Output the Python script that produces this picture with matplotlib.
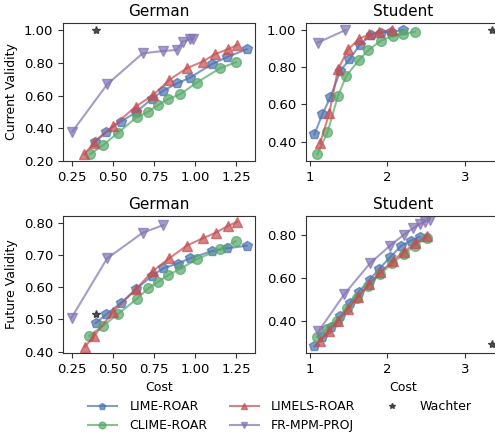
import matplotlib
matplotlib.use("Agg")
import matplotlib.pyplot as plt
import numpy as np

# German - current validity
g_cur_lime_x = [0.39, 0.457, 0.547, 0.64, 0.736, 0.807, 0.892, 0.97, 1.104, 1.193, 1.315]
g_cur_lime_y = [0.318, 0.379, 0.44, 0.497, 0.579, 0.63, 0.674, 0.709, 0.792, 0.833, 0.882]
g_cur_clime_x = [0.36, 0.441, 0.532, 0.644, 0.715, 0.776, 0.833, 0.909, 1.01, 1.152, 1.25]
g_cur_clime_y = [0.241, 0.298, 0.373, 0.467, 0.501, 0.542, 0.577, 0.607, 0.678, 0.766, 0.803]
g_cur_limels_x = [0.325, 0.386, 0.502, 0.638, 0.746, 0.843, 0.949, 1.047, 1.122, 1.199, 1.258]
g_cur_limels_y = [0.241, 0.312, 0.414, 0.532, 0.603, 0.695, 0.766, 0.807, 0.852, 0.882, 0.908]
g_cur_fr_x = [0.252, 0.465, 0.681, 0.807, 0.888, 0.925, 0.97, 0.99]
g_cur_fr_y = [0.379, 0.668, 0.857, 0.872, 0.878, 0.929, 0.943, 0.947]
g_cur_wachter = (0.396, 1.0)

# Student - current validity
s_cur_lime_x = [1.057, 1.161, 1.265, 1.392, 1.51, 1.64, 1.784, 1.915, 2.046, 2.198]
s_cur_lime_y = [0.439, 0.548, 0.641, 0.781, 0.842, 0.919, 0.973, 0.986, 0.989, 1.0]
s_cur_clime_x = [1.096, 1.226, 1.362, 1.47, 1.632, 1.754, 1.915, 2.068, 2.198, 2.35]
s_cur_clime_y = [0.332, 0.45, 0.647, 0.754, 0.839, 0.892, 0.943, 0.968, 0.977, 0.991]
s_cur_limels_x = [1.131, 1.248, 1.362, 1.493, 1.632, 1.762, 1.893, 2.055]
s_cur_limels_y = [0.391, 0.552, 0.79, 0.896, 0.952, 0.977, 0.987, 1.0]
s_cur_fr_x = [1.1, 1.458]
s_cur_fr_y = [0.932, 1.0]
s_cur_wachter = (3.344, 1.0)

# German - future validity
g_fut_lime_x = [0.394, 0.461, 0.549, 0.64, 0.736, 0.807, 0.894, 0.97, 1.102, 1.193, 1.315]
g_fut_lime_y = [0.488, 0.516, 0.551, 0.593, 0.634, 0.658, 0.673, 0.689, 0.711, 0.72, 0.728]
g_fut_clime_x = [0.356, 0.441, 0.529, 0.644, 0.715, 0.776, 0.837, 0.909, 1.01, 1.152, 1.25]
g_fut_clime_y = [0.449, 0.48, 0.516, 0.562, 0.596, 0.616, 0.637, 0.656, 0.686, 0.717, 0.742]
g_fut_limels_x = [0.329, 0.386, 0.502, 0.64, 0.742, 0.843, 0.949, 1.047, 1.126, 1.199, 1.258]
g_fut_limels_y = [0.415, 0.449, 0.524, 0.593, 0.649, 0.689, 0.728, 0.751, 0.768, 0.789, 0.802]
g_fut_fr_x = [0.248, 0.465, 0.681, 0.807]
g_fut_fr_y = [0.505, 0.689, 0.768, 0.792]
g_fut_wachter = (0.4, 0.516)

# Student - future validity
s_fut_lime_x = [1.057, 1.161, 1.275, 1.392, 1.514, 1.632, 1.771, 1.893, 2.033, 2.176, 2.298, 2.416]
s_fut_lime_y = [0.28, 0.322, 0.373, 0.42, 0.482, 0.536, 0.591, 0.642, 0.696, 0.749, 0.773, 0.792]
s_fut_clime_x = [1.088, 1.218, 1.349, 1.479, 1.61, 1.754, 1.906, 2.059, 2.207, 2.35, 2.503]
s_fut_clime_y = [0.324, 0.363, 0.4, 0.459, 0.508, 0.564, 0.617, 0.667, 0.71, 0.749, 0.787]
s_fut_limels_x = [1.131, 1.248, 1.362, 1.488, 1.618, 1.762, 1.906, 2.068, 2.207, 2.36, 2.503]
s_fut_limels_y = [0.304, 0.353, 0.4, 0.454, 0.512, 0.571, 0.625, 0.679, 0.722, 0.761, 0.797]
s_fut_fr_x = [1.109, 1.444, 1.775, 2.033, 2.207, 2.329, 2.416, 2.48, 2.546]
s_fut_fr_y = [0.35, 0.524, 0.668, 0.75, 0.8, 0.831, 0.85, 0.862, 0.87]
s_fut_wachter = (3.344, 0.292)

methods = ["LIME-ROAR", "CLIME-ROAR", "LIMELS-ROAR", "FR-MPM-PROJ"]
colors = ["#4C72B0", "#55A868", "#C44E52", "#8172B2"]
markers = ["p", "o", "^", "v"]

panels = [
    ("German", [(g_cur_lime_x, g_cur_lime_y), (g_cur_clime_x, g_cur_clime_y),
                (g_cur_limels_x, g_cur_limels_y), (g_cur_fr_x, g_cur_fr_y)], g_cur_wachter),
    ("Student", [(s_cur_lime_x, s_cur_lime_y), (s_cur_clime_x, s_cur_clime_y),
                 (s_cur_limels_x, s_cur_limels_y), (s_cur_fr_x, s_cur_fr_y)], s_cur_wachter),
    ("German", [(g_fut_lime_x, g_fut_lime_y), (g_fut_clime_x, g_fut_clime_y),
                (g_fut_limels_x, g_fut_limels_y), (g_fut_fr_x, g_fut_fr_y)], g_fut_wachter),
    ("Student", [(s_fut_lime_x, s_fut_lime_y), (s_fut_clime_x, s_fut_clime_y),
                 (s_fut_limels_x, s_fut_limels_y), (s_fut_fr_x, s_fut_fr_y)], s_fut_wachter),
]

boxes = [
    [0.127, 0.628, 0.388, 0.319],
    [0.618, 0.628, 0.392, 0.319],
    [0.127, 0.185, 0.388, 0.316],
    [0.618, 0.185, 0.392, 0.316],
]
xlims = [(0.195, 1.366), (0.948, 3.45), (0.195, 1.366), (0.948, 3.45)]
ylims = [(0.2, 1.043), (0.296, 1.038), (0.396, 0.82), (0.25, 0.888)]
yticks = [[0.2, 0.4, 0.6, 0.8, 1.0], [0.4, 0.6, 0.8, 1.0],
          [0.4, 0.5, 0.6, 0.7, 0.8], [0.4, 0.6, 0.8]]

fig = plt.figure(figsize=(4.95, 4.33), dpi=100)
handles = []
for k, (title, series, wach) in enumerate(panels):
    ax = fig.add_axes(boxes[k])
    for i, (xs, ys) in enumerate(series):
        h, = ax.plot(xs, ys, color=colors[i], marker=markers[i], markersize=7,
                     linewidth=1.5, alpha=0.7, label=methods[i])
        if k == 0:
            handles.append(h)
    hw, = ax.plot([wach[0]], [wach[1]], linestyle="none", marker="*",
                  color="#333333", markersize=6, alpha=0.85, label="Wachter")
    if k == 0:
        handles.append(hw)
    ax.set_title(title, fontsize=11, pad=5)
    ax.set_xlim(*xlims[k])
    ax.set_ylim(*ylims[k])
    ax.set_yticks(yticks[k])
    ax.yaxis.set_major_formatter(matplotlib.ticker.FormatStrFormatter("%.2f"))
    if k in (0, 2):
        ax.set_xticks([0.25, 0.5, 0.75, 1.0, 1.25])
        ax.xaxis.set_major_formatter(matplotlib.ticker.FormatStrFormatter("%.2f"))
    else:
        ax.set_xticks([1, 2, 3])
    ax.tick_params(labelsize=9.5, length=3.5, color="#333333")
    for s in ax.spines.values():
        s.set_color("#333333")
    if k == 0:
        ax.set_ylabel("Current Validity", fontsize=9)
    if k == 2:
        ax.set_ylabel("Future Validity", fontsize=9)
    if k >= 2:
        ax.set_xlabel("Cost", fontsize=9)

fig.legend(handles=handles, loc="upper center", ncol=3, frameon=False,
           fontsize=9, bbox_to_anchor=(0.565, 0.081), columnspacing=1.8,
           handlelength=2.3, handletextpad=1.0, labelspacing=0.45, markerscale=0.7,
           borderaxespad=0.1, borderpad=0.1)
fig.savefig("out.png", dpi=100)
